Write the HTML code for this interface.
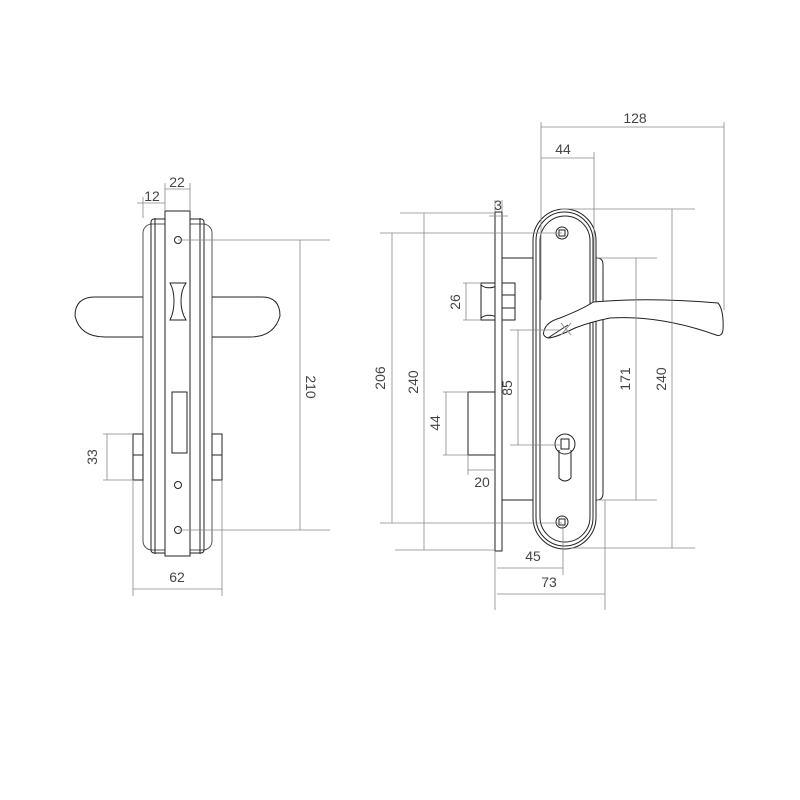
<!DOCTYPE html>
<html><head><style>body{margin:0;background:#fff}svg{display:block}text{font-family:"Liberation Sans",sans-serif;font-size:14px;fill:#444}</style></head><body>
<svg width="800" height="800" viewBox="0 0 800 800" xmlns="http://www.w3.org/2000/svg">
<g fill="none" stroke="#222" stroke-width="1">
<!-- LEFT VIEW -->
<rect x="143" y="224" width="69" height="326" rx="9" stroke="#555"/>
<rect x="151" y="219" width="53" height="334" rx="3"/>
<line x1="155" y1="218" x2="155" y2="554"/>
<line x1="200" y1="218" x2="200" y2="554"/>
<rect x="165" y="211" width="25" height="345" fill="#fff"/>
<path d="M75 316 Q75 297 95 297 L143 297 M143 337 L105 337 Q80 337 75 316"/>
<path d="M280 316 Q280 297 262 297 L212 297 M212 337 L250 337 Q274 337 280 316"/>
<path d="M170 283 L186 283 Q181 290 181 301 Q181 312 186 320 L170 320 Q174 312 174 301 Q174 290 170 283 Z"/>
<rect x="172" y="392" width="15" height="61"/>
<rect x="133" y="434" width="10" height="46"/><line x1="133" y1="455" x2="143" y2="455"/>
<rect x="212" y="434" width="10" height="46"/><line x1="212" y1="455" x2="222" y2="455"/>
<circle cx="178" cy="240" r="3.5"/><circle cx="178" cy="485" r="3.5"/><circle cx="178" cy="530" r="3.5"/>
</g>
<g fill="none" stroke="#888" stroke-width="0.8">
<line x1="165" y1="189" x2="190" y2="189"/><line x1="190" y1="183" x2="190" y2="211"/><line x1="165" y1="183" x2="165" y2="211"/>
<line x1="137" y1="203" x2="165" y2="203"/><line x1="143" y1="197" x2="143" y2="218"/>
<line x1="178" y1="240" x2="330" y2="240"/><line x1="178" y1="530" x2="330" y2="530"/>
<line x1="300" y1="240" x2="300" y2="530"/>
<line x1="103" y1="434" x2="133" y2="434"/><line x1="103" y1="480" x2="133" y2="480"/><line x1="107" y1="434" x2="107" y2="480"/>
<line x1="133" y1="480" x2="133" y2="596"/><line x1="222" y1="480" x2="222" y2="596"/><line x1="133" y1="589" x2="222" y2="589"/>
</g>
<text x="177" y="187" text-anchor="middle">22</text>
<text x="152" y="201" text-anchor="middle">12</text>
<text x="306" y="387" text-anchor="middle" transform="rotate(90 306 387)">210</text>
<text x="97" y="457" text-anchor="middle" transform="rotate(-90 97 457)">33</text>
<text x="177" y="582" text-anchor="middle">62</text>

<!-- RIGHT VIEW -->
<g fill="none" stroke="#222" stroke-width="1">
<path d="M502 258 L597 258 Q603 258 603 265 L603 493 Q603 500 597 500 L502 500"/>
<line x1="537" y1="258" x2="537" y2="500"/>
<rect x="481" y="283" width="16" height="37"/>
<path d="M481 285 Q487 290 497 286 M481 318 Q487 313 497 317"/>
<rect x="502" y="283" width="13" height="37"/><line x1="502" y1="295" x2="515" y2="295"/><line x1="502" y1="308" x2="515" y2="308"/>
<rect x="468" y="392" width="27" height="63"/>
<rect x="495" y="212" width="7" height="339" fill="#fff"/>
<rect x="533" y="209" width="63" height="340" rx="31.5" fill="#fff"/>
<rect x="536" y="212" width="57" height="334" rx="28.5"/>
<rect x="540" y="216" width="50" height="326" rx="25"/>
<circle cx="562" cy="233" r="6"/><rect x="559" y="230" width="6" height="6"/>
<circle cx="562" cy="522" r="6"/><rect x="559" y="519" width="6" height="6"/>
<path d="M544 331 Q546 322 560 318 Q585 308 593 302 Q650 297 718 303 Q724 310 723 330 Q722 337 716 335 Q660 315 610 318 Q590 322 575 328 Q555 338 548 338 Q542 336 544 331 Z" fill="#fff"/>
<path d="M548 338 Q560 330 568 325"/>
<path d="M561 323 L571 335 M571 323 L561 335" stroke="#999"/>
<circle cx="565" cy="444" r="10"/>
<path d="M559 450 L559 478 Q565 484 571 478 L571 450"/>
<rect x="561" y="439" width="8" height="10"/>
</g>
<g fill="none" stroke="#888" stroke-width="0.8">
<line x1="541" y1="122" x2="541" y2="300"/><line x1="724" y1="122" x2="724" y2="310"/><line x1="541" y1="127" x2="724" y2="127"/>
<line x1="594" y1="152" x2="594" y2="300"/><line x1="541" y1="158" x2="594" y2="158"/>
<line x1="495" y1="200" x2="495" y2="212"/><line x1="502" y1="200" x2="502" y2="212"/><line x1="489" y1="216" x2="508" y2="216"/>
<line x1="400" y1="213" x2="495" y2="213"/><line x1="395" y1="550" x2="495" y2="550"/>
<line x1="380" y1="233" x2="562" y2="233"/><line x1="380" y1="523" x2="562" y2="523"/>
<line x1="392" y1="233" x2="392" y2="523"/><line x1="424" y1="213" x2="424" y2="550"/>
<line x1="463" y1="283" x2="481" y2="283"/><line x1="463" y1="320" x2="481" y2="320"/><line x1="466" y1="283" x2="466" y2="320"/>
<line x1="443" y1="392" x2="468" y2="392"/><line x1="443" y1="455" x2="468" y2="455"/><line x1="446" y1="392" x2="446" y2="455"/>
<line x1="510" y1="330" x2="560" y2="330"/><line x1="510" y1="445" x2="560" y2="445"/><line x1="518" y1="330" x2="518" y2="445"/>
<line x1="468" y1="455" x2="468" y2="475"/><line x1="468" y1="470" x2="495" y2="470"/>
<line x1="495" y1="551" x2="495" y2="610"/><line x1="563" y1="525" x2="563" y2="575"/><line x1="497" y1="568" x2="563" y2="568"/>
<line x1="605" y1="500" x2="605" y2="610"/><line x1="497" y1="594" x2="605" y2="594"/>
<line x1="597" y1="258" x2="657" y2="258"/><line x1="597" y1="500" x2="657" y2="500"/><line x1="636" y1="258" x2="636" y2="500"/>
<line x1="560" y1="209" x2="695" y2="209"/><line x1="570" y1="548" x2="695" y2="548"/><line x1="672" y1="209" x2="672" y2="548"/>
</g>
<text x="635" y="123" text-anchor="middle">128</text>
<text x="563" y="154" text-anchor="middle">44</text>
<text x="498" y="210" text-anchor="middle">3</text>
<text x="385" y="378" text-anchor="middle" transform="rotate(-90 385 378)">206</text>
<text x="418" y="382" text-anchor="middle" transform="rotate(-90 418 382)">240</text>
<text x="460" y="302" text-anchor="middle" transform="rotate(-90 460 302)">26</text>
<text x="440" y="423" text-anchor="middle" transform="rotate(-90 440 423)">44</text>
<text x="512" y="388" text-anchor="middle" transform="rotate(-90 512 388)">85</text>
<text x="482" y="487" text-anchor="middle">20</text>
<text x="533" y="561" text-anchor="middle">45</text>
<text x="549" y="587" text-anchor="middle">73</text>
<text x="630" y="379" text-anchor="middle" transform="rotate(-90 630 379)">171</text>
<text x="666" y="379" text-anchor="middle" transform="rotate(-90 666 379)">240</text>
</svg>
</body></html>
